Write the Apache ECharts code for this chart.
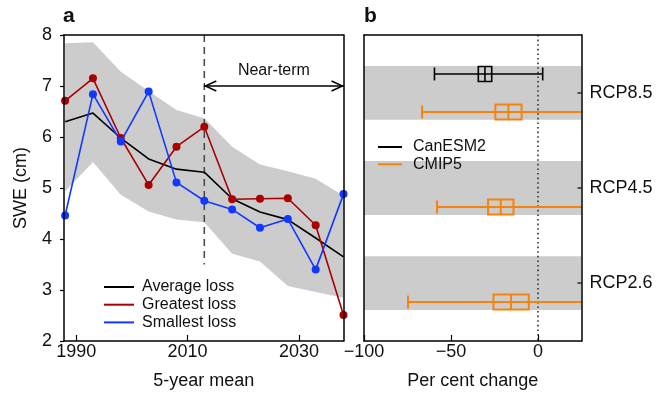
<!DOCTYPE html>
<html>
<head>
<meta charset="utf-8">
<script src="https://cdn.jsdelivr.net/npm/echarts@6/dist/echarts.min.js"></script>
<style>
  html, body { margin: 0; padding: 0; background: #fff; }
  #chart { width: 657px; height: 395px; }
</style>
</head>
<body>
<div id="chart"></div>
<script>
// panel a: 5-year mean SWE (cm)
const years = [1988, 1993, 1998, 2003, 2008, 2013, 2018, 2023, 2028, 2033, 2038];
const averageLoss = [6.30, 6.47, 5.98, 5.57, 5.37, 5.31, 4.79, 4.53, 4.38, 4.02, 3.65];
const greatestLoss = [6.71, 7.15, 5.98, 5.06, 5.81, 6.20, 4.78, 4.79, 4.80, 4.27, 2.51];
const smallestLoss = [4.46, 6.84, 5.91, 6.89, 5.11, 4.75, 4.58, 4.22, 4.39, 3.40, 4.88];
const rangeUpper = [7.84, 7.86, 7.28, 6.90, 6.53, 6.37, 5.81, 5.46, 5.33, 5.18, 4.85];
const rangeLower = [4.93, 5.51, 4.87, 4.54, 4.38, 4.33, 3.71, 3.56, 3.08, 2.96, 2.85];
const yearTicks = [1990, 2010, 2030];
const nearTerm = [2013, 2038];   // start, end of near-term window
const nearTermArrowAt = 7;
const dashedFrom = 8, dashedTo = 3.5;

// panel b: per cent change, [scenario, low, q1, median, q3, high]
const scenarios = ['RCP2.6', 'RCP4.5', 'RCP8.5'];
const canesm2Stats = [[2, -59.5, -34.3, -30.5, -26.6, 2.7]];
const cmip5Stats = [
  [0, -74.7, -25.6, -15.5, -5.3, 40],
  [1, -58.0, -28.7, -21.4, -14.1, 40],
  [2, -66.6, -24.5, -17.0, -9.4, 40]
];
const changeTicks = [-100, -50, 0];

const FONT = 'Liberation Sans, Arial, Helvetica, sans-serif';
const TXT = '#111';
const RED = '#a80000';
const BLUE = '#1038ff';
const ORANGE = '#f7820c';
const GREY = '#cccccc';
const BAND_HALF = 0.283, ROW_OFF = 0.2, BOX_HALF = 7.5, CAP_HALF = 6.5;

const chart = echarts.init(document.getElementById('chart'));

function pairs(vals) { return years.map((y, i) => [y, vals[i]]); }

function boxRender(offset, width) {
  return function (params, api) {
    const cs = params.coordSys;
    const right = cs.x + cs.width;
    const y = api.value(0) + 1 + offset;
    const lo = api.coord([api.value(1), y]);
    const q1 = api.coord([api.value(2), y]);
    const md = api.coord([api.value(3), y]);
    const q3 = api.coord([api.value(4), y]);
    const hi = api.coord([api.value(5), y]);
    const style = { stroke: api.visual('color'), lineWidth: width, fill: null };
    const kids = [
      { type: 'line', shape: { x1: lo[0], y1: lo[1], x2: Math.min(hi[0], right), y2: hi[1] }, style: style },
      { type: 'line', shape: { x1: lo[0], y1: lo[1] - CAP_HALF, x2: lo[0], y2: lo[1] + CAP_HALF }, style: style },
      { type: 'rect', shape: { x: q1[0], y: q1[1] - BOX_HALF, width: q3[0] - q1[0], height: 2 * BOX_HALF }, style: style },
      { type: 'line', shape: { x1: md[0], y1: md[1] - BOX_HALF, x2: md[0], y2: md[1] + BOX_HALF }, style: style }
    ];
    if (hi[0] <= right) {
      kids.push({ type: 'line', shape: { x1: hi[0], y1: hi[1] - CAP_HALF, x2: hi[0], y2: hi[1] + CAP_HALF }, style: style });
    }
    return { type: 'group', children: kids };
  };
}

const frameLine = { show: true, onZero: false, lineStyle: { color: '#000', width: 1.5 } };

const borderAxis = {
  min: 0, max: 1, type: 'value', z: 10,
  axisLine: frameLine,
  axisTick: { show: false }, axisLabel: { show: false }, splitLine: { show: false }
};

const option = {
  animation: false,
  textStyle: { fontFamily: FONT },
  title: [
    { text: 'a', left: 63, top: 6, padding: 0, textStyle: { fontSize: 21, fontWeight: 'bold', color: TXT, fontFamily: FONT } },
    { text: 'b', left: 364, top: 6, padding: 0, textStyle: { fontSize: 21, fontWeight: 'bold', color: TXT, fontFamily: FONT } }
  ],
  legend: [
    {
      data: ['Average loss', 'Greatest loss', 'Smallest loss'],
      orient: 'vertical', left: 104, top: 279, padding: 0,
      icon: 'rect', itemWidth: 30, itemHeight: 2, itemGap: 1.7,
      textStyle: { fontSize: 16, color: TXT, lineHeight: 16, padding: [0, 0, 0, 3], fontFamily: FONT }
    },
    {
      data: ['CanESM2', 'CMIP5'],
      orient: 'vertical', left: 378, top: 139, padding: 0,
      icon: 'rect', itemWidth: 24, itemHeight: 2, itemGap: 1.3,
      textStyle: { fontSize: 16, color: TXT, lineHeight: 16, padding: [0, 0, 0, 6], fontFamily: FONT }
    }
  ],
  grid: [
    { left: 64, right: 313.5, top: 35, bottom: 53 },
    { left: 364, right: 75.5, top: 35, bottom: 53 }
  ],
  xAxis: [
    {
      gridIndex: 0, type: 'value', min: 1987.8, max: 2038, z: 10,
      name: '5-year mean', nameLocation: 'middle', nameGap: 31,
      nameTextStyle: { fontSize: 18, color: TXT, fontFamily: FONT },
      axisLine: frameLine,
      axisTick: { show: true, inside: true, length: 6, customValues: yearTicks, lineStyle: { color: '#000', width: 1.2 } },
      axisLabel: { customValues: yearTicks, fontSize: 18, color: TXT, margin: 2, fontFamily: FONT, formatter: v => String(v) },
      splitLine: { show: false }
    },
    Object.assign({ gridIndex: 0, position: 'top' }, borderAxis),
    {
      gridIndex: 1, type: 'value', min: -100, max: 25, z: 10,
      name: 'Per cent change', nameLocation: 'middle', nameGap: 31,
      nameTextStyle: { fontSize: 18, color: TXT, fontFamily: FONT },
      axisLine: frameLine,
      axisTick: { show: true, inside: true, length: 6, customValues: changeTicks, lineStyle: { color: '#000', width: 1.2 } },
      axisLabel: {
        customValues: changeTicks, fontSize: 18, color: TXT, margin: 2, fontFamily: FONT,
        formatter: v => String(v).replace('-', '\u2212')
      },
      splitLine: { show: false }
    },
    Object.assign({ gridIndex: 1, position: 'top' }, borderAxis)
  ],
  yAxis: [
    {
      gridIndex: 0, type: 'value', min: 2, max: 8, interval: 1, z: 10,
      name: 'SWE (cm)', nameLocation: 'middle', nameGap: 34,
      nameTextStyle: { fontSize: 18, color: TXT, fontFamily: FONT },
      axisLine: frameLine,
      axisTick: { show: true, length: 4, lineStyle: { color: '#000', width: 1.2 } },
      axisLabel: { fontSize: 18, color: TXT, margin: 12, fontFamily: FONT },
      splitLine: { show: false }
    },
    Object.assign({ gridIndex: 0, position: 'right' }, borderAxis),
    {
      gridIndex: 1, type: 'value', min: 0.39, max: 3.61, position: 'right', z: 10,
      axisLine: frameLine,
      axisTick: { show: false },
      axisLabel: {
        customValues: [1, 2, 3], fontSize: 18, color: TXT, margin: 8, fontFamily: FONT,
        formatter: v => scenarios[Math.round(v) - 1]
      },
      splitLine: { show: false }
    },
    Object.assign({ gridIndex: 1, position: 'left' }, borderAxis)
  ],
  series: [
    {
      // model spread: polygon upper edge then lower edge back
      name: 'range', type: 'custom', xAxisIndex: 0, yAxisIndex: 0, silent: true, z: 1,
      data: years.map((y, i) => [y, rangeLower[i], rangeUpper[i]]),
      encode: { x: 0, y: [1, 2] },
      renderItem: function (params, api) {
        if (params.dataIndex !== 0) return null;
        const pts = years.map((y, i) => api.coord([y, rangeUpper[i]]));
        for (let i = years.length - 1; i >= 0; i--) pts.push(api.coord([years[i], rangeLower[i]]));
        const cs = params.coordSys;
        return {
          type: 'polygon', shape: { points: pts }, style: { fill: GREY },
          clipPath: { type: 'rect', shape: { x: cs.x, y: cs.y, width: cs.width, height: cs.height } }
        };
      }
    },
    {
      name: 'nearTerm', type: 'custom', xAxisIndex: 0, yAxisIndex: 0, silent: true, z: 3,
      data: [[nearTerm[0], nearTerm[1], nearTermArrowAt, dashedFrom, dashedTo]],
      encode: { x: [0, 1], y: [2, 3, 4] },
      renderItem: function (params, api) {
        const a = api.coord([api.value(0), api.value(2)]);
        const b = api.coord([api.value(1), api.value(2)]);
        const d1 = api.coord([api.value(0), api.value(3)]);
        const d2 = api.coord([api.value(0), api.value(4)]);
        const st = { stroke: '#000', lineWidth: 1.4, fill: null };
        return {
          type: 'group', children: [
            { type: 'line', shape: { x1: d1[0], y1: d1[1], x2: d2[0], y2: d2[1] },
              style: { stroke: '#444', lineWidth: 1.5, lineDash: [7, 5] } },
            { type: 'line', shape: { x1: a[0], y1: a[1], x2: b[0], y2: b[1] }, style: st },
            { type: 'polyline', shape: { points: [[a[0] + 12, a[1] - 5], [a[0] + 1, a[1]], [a[0] + 12, a[1] + 5]] }, style: st },
            { type: 'polyline', shape: { points: [[b[0] - 12, b[1] - 5], [b[0] - 1, b[1]], [b[0] - 12, b[1] + 5]] }, style: st },
            { type: 'text', style: { text: 'Near-term', x: (a[0] + b[0]) / 2, y: a[1] - 15,
              align: 'center', verticalAlign: 'middle', fontSize: 16, fontFamily: FONT, fill: TXT } }
          ]
        };
      }
    },
    {
      name: 'Average loss', type: 'line', xAxisIndex: 0, yAxisIndex: 0,
      data: pairs(averageLoss), symbol: 'none', color: '#000',
      lineStyle: { color: '#000', width: 1.6 }, z: 4
    },
    {
      name: 'Greatest loss', type: 'line', xAxisIndex: 0, yAxisIndex: 0,
      data: pairs(greatestLoss), symbol: 'circle', symbolSize: 8, color: RED,
      lineStyle: { color: RED, width: 1.6 }, itemStyle: { color: RED }, z: 5
    },
    {
      name: 'Smallest loss', type: 'line', xAxisIndex: 0, yAxisIndex: 0,
      data: pairs(smallestLoss), symbol: 'circle', symbolSize: 8, color: BLUE,
      lineStyle: { color: BLUE, width: 1.6 }, itemStyle: { color: BLUE }, z: 6
    },
    {
      // scenario bands plus the small inward tick on the right axis
      name: 'bands', type: 'custom', xAxisIndex: 2, yAxisIndex: 2, silent: true, z: 1,
      data: scenarios.map((s, i) => [i + 1]),
      encode: { y: 0 },
      renderItem: function (params, api) {
        const cs = params.coordSys;
        const right = cs.x + cs.width;
        const top = api.coord([0, api.value(0) + BAND_HALF]);
        const bot = api.coord([0, api.value(0) - BAND_HALF]);
        const mid = api.coord([0, api.value(0)]);
        return {
          type: 'group', children: [
            { type: 'rect', shape: { x: cs.x, y: top[1], width: cs.width, height: bot[1] - top[1] },
              style: { fill: GREY } },
            { type: 'line', z2: 50, shape: { x1: right - 4, y1: mid[1], x2: right, y2: mid[1] },
              style: { stroke: '#000', lineWidth: 1.2 } }
          ]
        };
      }
    },
    {
      name: 'zero', type: 'custom', xAxisIndex: 2, yAxisIndex: 2, silent: true, z: 2,
      data: [[0]], encode: { x: 0 },
      renderItem: function (params, api) {
        const cs = params.coordSys;
        const p = api.coord([api.value(0), 1]);
        return { type: 'line', shape: { x1: p[0], y1: cs.y, x2: p[0], y2: cs.y + cs.height },
          style: { stroke: '#333', lineWidth: 1.6, lineDash: [1.6, 3] } };
      }
    },
    {
      name: 'CanESM2', type: 'custom', xAxisIndex: 2, yAxisIndex: 2, z: 4,
      color: '#000', itemStyle: { color: '#000' },
      data: canesm2Stats, encode: { x: [1, 2, 3, 4, 5], y: 0 },
      renderItem: boxRender(ROW_OFF, 1.6)
    },
    {
      name: 'CMIP5', type: 'custom', xAxisIndex: 2, yAxisIndex: 2, z: 4,
      color: ORANGE, itemStyle: { color: ORANGE },
      data: cmip5Stats, encode: { x: [1, 2, 3, 4, 5], y: 0 },
      renderItem: boxRender(-ROW_OFF, 2)
    }
  ]
};

chart.setOption(option);
</script>
</body>
</html>
